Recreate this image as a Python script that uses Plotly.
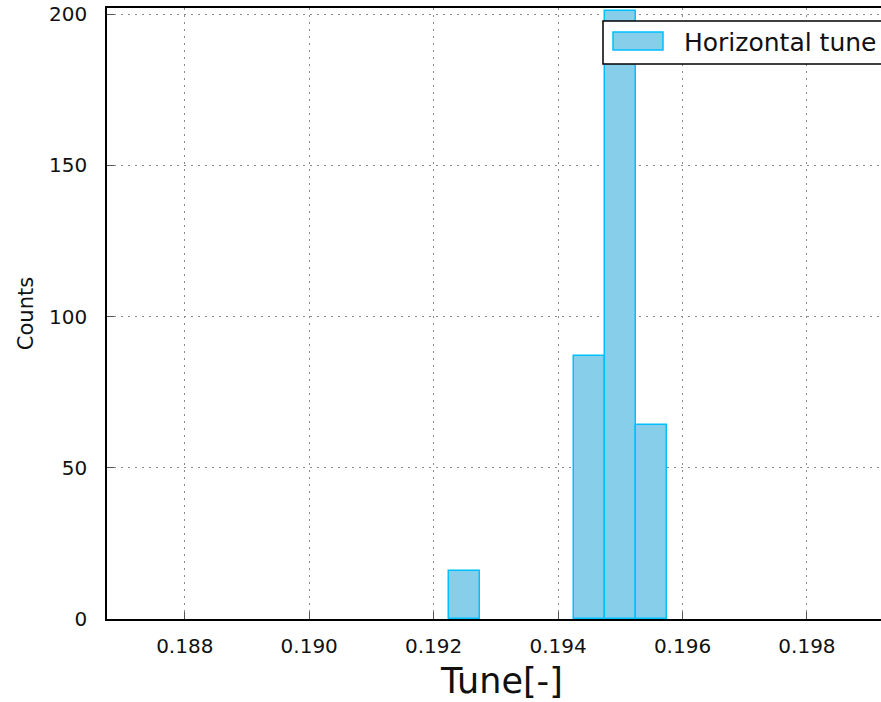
import plotly.graph_objects as go

# Histogram of the horizontal tune: bin centres and counts
bin_centers = [0.1925, 0.1945, 0.1950, 0.1955]
counts = [16, 87, 201, 64]
bin_width = 0.0005

x_ticks = [0.188, 0.190, 0.192, 0.194, 0.196, 0.198]
x_tick_labels = ["0.188", "0.190", "0.192", "0.194", "0.196", "0.198"]
y_ticks = [0, 50, 100, 150, 200]

W, H = 881, 702
L, R, T, B = 107, 0, 8, 83
pw, ph = W - L - R, H - T - B


def px(X):
    return (X - L) / pw


def py(Y):
    return (H - B - Y) / ph


FONT = "DejaVu Sans"

fig = go.Figure()
fig.add_trace(go.Bar(
    x=bin_centers, y=counts, width=bin_width,
    marker=dict(color="#87CEEB", line=dict(color="#00BFFF", width=1.5)),
    name="Horizontal tune", showlegend=False,
))

grid = dict(showgrid=True, gridcolor="#8a8a8a", gridwidth=1, griddash="2px,5px")

fig.update_layout(
    width=W, height=H,
    margin=dict(l=L, r=R, t=T, b=B, autoexpand=False),
    paper_bgcolor="white", plot_bgcolor="white",
    font=dict(family=FONT, size=20, color="#111"),
    bargap=0,
    xaxis=dict(
        range=[0.18675, 0.19919], tickvals=x_ticks, ticktext=x_tick_labels,
        ticks="inside", ticklen=7, tickcolor="#555", tickwidth=1,
        showline=True, linecolor="black", linewidth=1.5, mirror=True,
        zeroline=False, ticklabelstandoff=8,
        **grid,
    ),
    yaxis=dict(
        range=[0, 202], tickvals=y_ticks,
        ticks="inside", ticklen=7, tickcolor="#555", tickwidth=1,
        showline=True, linecolor="black", linewidth=1.5, mirror=False,
        zeroline=False, ticklabelstandoff=14,
        title=dict(text="Counts", font=dict(size=21), standoff=10),
        **grid,
    ),
)

# x-axis title, centred on the full (wider) plotting frame
fig.add_annotation(xref="paper", yref="paper", x=px(501), y=py(681),
                   text="Tune[-]", showarrow=False,
                   xanchor="center", yanchor="middle",
                   font=dict(family=FONT, size=35, color="#111"))

# Legend box drawn over the plot
fig.add_shape(type="rect", xref="paper", yref="paper",
              x0=px(603), x1=px(905), y0=py(64), y1=py(21),
              fillcolor="white", line=dict(color="black", width=1.5), layer="above")
fig.add_shape(type="rect", xref="paper", yref="paper",
              x0=px(613), x1=px(663), y0=py(50), y1=py(32),
              fillcolor="#87CEEB", line=dict(color="#00BFFF", width=1.5), layer="above")
fig.add_annotation(xref="paper", yref="paper", x=px(682), y=py(42),
                   text="Horizontal tune", showarrow=False,
                   xanchor="left", yanchor="middle",
                   font=dict(family=FONT, size=25, color="#111"))

fig.write_html("out.html")
